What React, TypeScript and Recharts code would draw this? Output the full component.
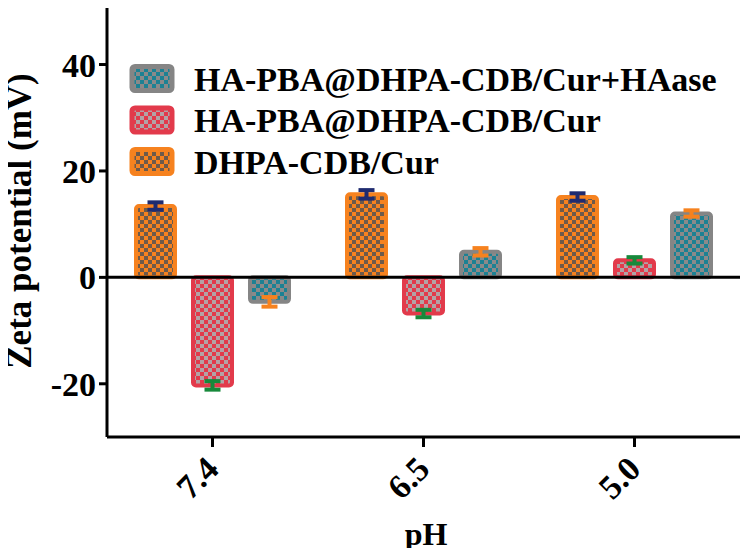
import { BarChart, Bar, XAxis, YAxis, ErrorBar, ReferenceLine } from "recharts";

const phLabels = ["7.4", "6.5", "5.0"];
const dhpaCur = [13.4, 15.6, 15.1];
const dhpaCurErr = [0.7, 0.8, 0.7];
const haPbaCur = [-20.3, -6.8, 3.2];
const haPbaCurErr = [0.8, 0.7, 0.6];
const haPbaHaase = [-4.6, 4.8, 12.0];
const haPbaHaaseErr = [0.9, 0.7, 0.6];
const yTicks = [-20, 0, 20, 40];

const seriesNames = ["DHPA-CDB/Cur", "HA-PBA@DHPA-CDB/Cur", "HA-PBA@DHPA-CDB/Cur+HAase"];

const data = phLabels.map((ph, i) => ({
  ph,
  dhpa: dhpaCur[i],
  dhpaErr: dhpaCurErr[i],
  haPba: haPbaCur[i],
  haPbaErr: haPbaCurErr[i],
  haase: haPbaHaase[i],
  haaseErr: haPbaHaaseErr[i],
}));

const FONT = '"Liberation Serif", "Times New Roman", serif';

const styles = [
  { border: "#f6821f", a: "#f6821f", b: "#6d5a4b", err: "#1f2b70", pat: "patOrange" },
  { border: "#e23a4b", a: "#e23a4b", b: "#b3a2a6", err: "#17893b", pat: "patRed" },
  { border: "#858585", a: "#1c8193", b: "#8a8a8a", err: "#f6821f", pat: "patGray" },
];

function Patterns() {
  return (
    <svg width={0} height={0} style={{ position: "absolute" }}>
      <defs>
        {styles.map((s) => (
          <pattern key={s.pat} id={s.pat} width={8} height={8} patternUnits="userSpaceOnUse">
            <rect width={8} height={8} fill={s.a} />
            <rect width={4} height={4} fill={s.b} />
            <rect x={4} y={4} width={4} height={4} fill={s.b} />
          </pattern>
        ))}
      </defs>
    </svg>
  );
}

function PhTick({ x, y, payload }: any) {
  return (
    <text
      x={x + 8}
      y={y + 22}
      transform={`rotate(-45, ${x + 8}, ${y + 22})`}
      textAnchor="end"
      fontFamily={FONT}
      fontWeight="bold"
      fontSize={34}
      fill="#000"
    >
      {payload.value}
    </text>
  );
}

const legendOrder = [2, 1, 0];

export default function App() {
  return (
    <div style={{ margin: -8, position: "relative", width: 750, height: 556, background: "#fff" }}>
      <Patterns />
      <BarChart
        width={750}
        height={556}
        data={data}
        margin={{ top: 6, right: 10, left: 0, bottom: 0 }}
        barSize={39}
        barGap={18}
      >
        <XAxis
          dataKey="ph"
          height={119}
          axisLine={{ stroke: "#000", strokeWidth: 3 }}
          tickLine={{ stroke: "#000", strokeWidth: 3 }}
          tickSize={10}
          tick={<PhTick />}
          interval={0}
        />
        <XAxis xAxisId="top" dataKey="ph" orientation="top" height={0} tick={false} tickLine={false}
          axisLine={{ stroke: "#000", strokeWidth: 3 }} />
        <YAxis
          width={107}
          domain={[-30, 51]}
          ticks={yTicks}
          allowDataOverflow
          axisLine={{ stroke: "#000", strokeWidth: 3 }}
          tickLine={{ stroke: "#000", strokeWidth: 3 }}
          tickSize={8}
          tickMargin={3}
          tick={{ fontFamily: FONT, fontWeight: "bold", fontSize: 34, fill: "#000" }}
        />
        <YAxis yAxisId="right" orientation="right" width={0} domain={[-30, 51]} tick={false} tickLine={false}
          axisLine={{ stroke: "#000", strokeWidth: 3 }} />
        <ReferenceLine y={0} stroke="#000" strokeWidth={3} />
        <Bar dataKey="dhpa" name={seriesNames[0]} fill={`url(#${styles[0].pat})`} stroke={styles[0].border}
          strokeWidth={4} radius={3} isAnimationActive={false}>
          <ErrorBar dataKey="dhpaErr" stroke={styles[0].err} strokeWidth={4} width={8} />
        </Bar>
        <Bar dataKey="haPba" name={seriesNames[1]} fill={`url(#${styles[1].pat})`} stroke={styles[1].border}
          strokeWidth={4} radius={3} isAnimationActive={false}>
          <ErrorBar dataKey="haPbaErr" stroke={styles[1].err} strokeWidth={4} width={8} />
        </Bar>
        <Bar dataKey="haase" name={seriesNames[2]} fill={`url(#${styles[2].pat})`} stroke={styles[2].border}
          strokeWidth={4} radius={3} isAnimationActive={false}>
          <ErrorBar dataKey="haaseErr" stroke={styles[2].err} strokeWidth={4} width={8} />
        </Bar>
      </BarChart>
      <svg width={750} height={556} style={{ position: "absolute", left: 0, top: 0, pointerEvents: "none" }}>
        <text
          x={31}
          y={221}
          transform="rotate(-90, 31, 221)"
          textAnchor="middle"
          fontFamily={FONT}
          fontWeight="bold"
          fontSize={35}
          fill="#000"
        >
          Zeta potential (mV)
        </text>
        <text x={426} y={545} textAnchor="middle" fontFamily={FONT} fontWeight="bold" fontSize={32} fill="#000">
          pH
        </text>
        {legendOrder.map((si, row) => {
          const s = styles[si];
          const y0 = 66.5 + row * 41.5;
          return (
            <g key={si}>
              <rect x={132} y={y0} width={40} height={24} rx={3} fill={`url(#${s.pat})`} stroke={s.border} strokeWidth={5} />
              <text x={194} y={y0 + 24} fontFamily={FONT} fontWeight="bold" fontSize={34} fill="#000">
                {seriesNames[si]}
              </text>
            </g>
          );
        })}
      </svg>
    </div>
  );
}
